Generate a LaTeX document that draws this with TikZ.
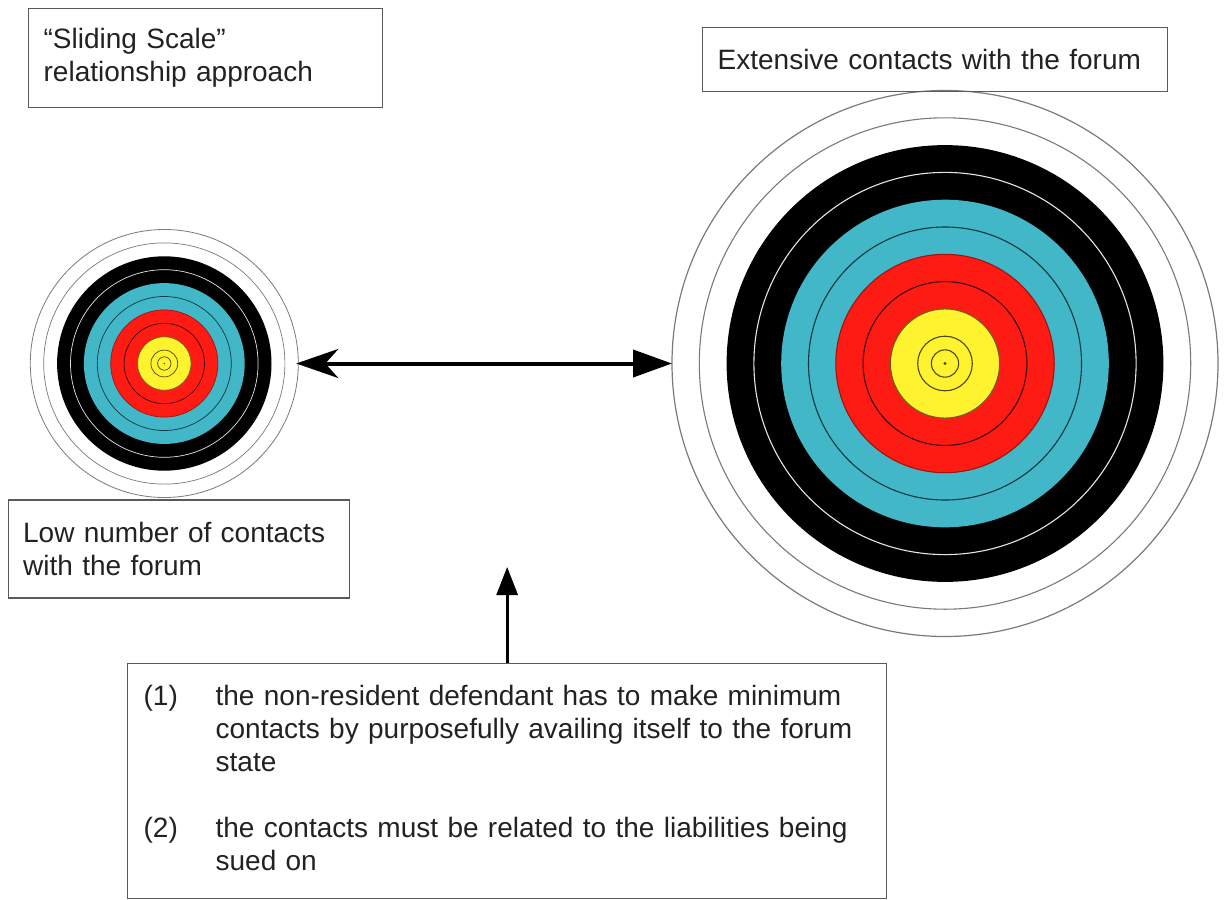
\documentclass[tikz,border=0pt]{standalone}
\usepackage{fontspec}
\setmainfont{Liberation Sans}
\usetikzlibrary{arrows.meta}
\definecolor{tyellow}{HTML}{FFF22E}
\definecolor{tred}{HTML}{FD1B14}
\definecolor{tblue}{HTML}{41B7C8}
\definecolor{boxgray}{HTML}{5A5A5A}
\definecolor{txt}{HTML}{222222}
\definecolor{ringgray}{HTML}{7A7A7A}
\newcommand\archtarget[4]{%
  \begin{scope}[shift={(#1,#2)}, line width=#4]
    \draw[ringgray] (0,0) circle[radius=9*#3];
    \fill[black] (0,0) circle[radius=8*#3];
    \draw[white!80!gray] (0,0) circle[radius=7*#3];
    \fill[tblue] (0,0) circle[radius=6*#3];
    \draw[black!70!tblue] (0,0) circle[radius=5*#3];
    \filldraw[fill=tred, draw=black!35!tred] (0,0) circle[radius=4*#3];
    \draw[black!75!tred] (0,0) circle[radius=3*#3];
    \filldraw[fill=tyellow, draw=black!60!tyellow] (0,0) circle[radius=2*#3];
    \draw[black!70!tyellow] (0,0) circle[radius=#3] (0,0) circle[radius=0.5*#3];
    \fill[black!70!tyellow] (0,0) circle[radius=0.06*#3];
  \end{scope}}
\tikzset{
  textbox/.style={draw=boxgray, line width=1.3pt, anchor=north west, align=left,
    inner ysep=0pt, text=txt, font=\fontsize{28}{33}\selectfont},
  targetnode/.style={circle, draw=ringgray, fill=white, inner sep=0pt, outer sep=0pt},
  bigarrow/.style={line width=4pt, {Stealth[length=42pt,width=29pt,inset=13pt]}-{Triangle[length=39pt,width=27pt]}},
  uparrow/.style={line width=3pt, -{Triangle[length=28pt,width=21pt]}}
}
\begin{document}
\begin{tikzpicture}[x=1pt, y=-1pt]
  \useasboundingbox (0,0) rectangle (1225,899);
  \fill[white] (0,0) rectangle (1225,899);

  % targets
  \node[targetnode, line width=0.8pt, minimum size=268pt] (small) at (164.3,363.5) {};
  \archtarget{164.3}{363.5}{13.4}{0.7pt}
  \node[targetnode, line width=1.2pt, minimum size=546pt] (big) at (945,363.5) {};
  \archtarget{945}{363.5}{27.3}{1.1pt}

  % text boxes
  \node[textbox, inner xsep=15pt, text width=324pt, minimum height=99pt] (title) at (28,8)
    {“Sliding Scale”\\relationship approach};
  \node[textbox, inner xsep=15pt, text width=435pt, minimum height=64pt] (extensive) at (702,27)
    {Extensive contacts with the forum};
  \node[textbox, inner xsep=14.5pt, text width=312pt, minimum height=98pt] (low) at (8,499.3)
    {Low number of contacts\\with the forum};
  \node[textbox, inner xsep=16pt, text width=727pt, minimum height=235pt] (rules) at (127,663)
    {\begin{tabular}{@{}p{72pt}@{}l@{}}
      (1) & the non-resident defendant has to make minimum\\
          & contacts by purposefully availing itself to the forum\\
          & state\\
          & \\
      (2) & the contacts must be related to the liabilities being\\
          & sued on
    \end{tabular}};

  % connectors
  \draw[bigarrow, shorten <=-2pt] (small) -- (big);
  \coordinate (vtip) at (rules.north |- 0,567);
  \draw[uparrow] (rules.north) -- (vtip);
\end{tikzpicture}
\end{document}
